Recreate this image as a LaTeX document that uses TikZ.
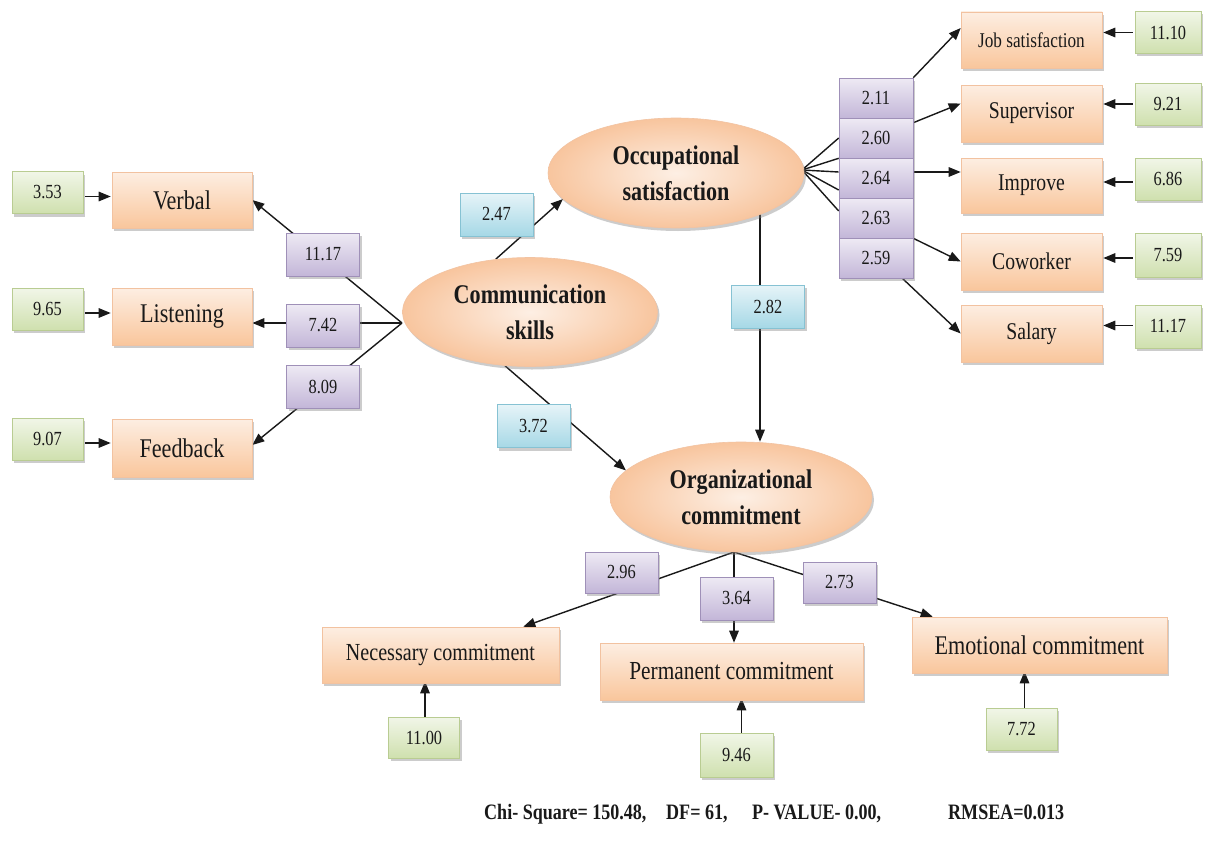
\documentclass[tikz,border=0pt]{standalone}
\usepackage{fontspec}
\setmainfont{Liberation Serif}[FakeStretch=0.82]
\usetikzlibrary{shapes.geometric,shadows,arrows.meta}
\pgfdeclarelayer{bg}
\pgfdeclarelayer{edges}
\pgfsetlayers{bg,edges,main}
\definecolor{orT}{HTML}{FDEEE2}
\definecolor{orB}{HTML}{F9C69C}
\definecolor{orD}{HTML}{F2C2A0}
\definecolor{grT}{HTML}{F1F6E8}
\definecolor{grB}{HTML}{CFE0AE}
\definecolor{grD}{HTML}{B9CC92}
\definecolor{puT}{HTML}{EEEAF4}
\definecolor{puB}{HTML}{C3B6D8}
\definecolor{puD}{HTML}{9F90B8}
\definecolor{blT}{HTML}{E6F4F8}
\definecolor{blB}{HTML}{A6D8E6}
\definecolor{blD}{HTML}{86C2D3}
\definecolor{elT}{HTML}{FDEFE4}
\definecolor{elB}{HTML}{F8C59E}
\definecolor{elD}{HTML}{F2C3A2}
\newcommand\myfs[2]{\fontsize{#1}{#2}\selectfont}
\tikzset{
  shad/.style={drop shadow={shadow xshift=2pt,shadow yshift=-3pt,fill=black!50,opacity=.4}},
  boxbase/.style={rectangle, inner sep=0pt, shad, line width=0.6pt, text=black!90},
  obsbox/.style={boxbase, draw=orD, top color=orT, bottom color=orB, minimum width=140pt, minimum height=56pt, font=\myfs{27}{27}},
  obsR/.style={obsbox, minimum width=141pt, font=\myfs{24}{24}},
  errbox/.style={boxbase, draw=grD, top color=grT, bottom color=grB, minimum width=71pt, minimum height=42pt, font=\myfs{20}{20}},
  loadbox/.style={boxbase, draw=puD, top color=puT, bottom color=puB, minimum width=73pt, minimum height=42pt, font=\myfs{20}{20}},
  pathbox/.style={boxbase, draw=blD, top color=blT, bottom color=blB, minimum width=73pt, minimum height=43pt, font=\myfs{20}{20}},
  latent/.style={ellipse, draw=elD, line width=0.6pt, inner color=elT, outer color=elB, shad, minimum width=256pt, minimum height=110pt, inner sep=0pt, align=center, text=black!90, font=\bfseries\myfs{27}{36}},
  link/.style={draw=black!90, line width=1.4pt},
  arrowlink/.style={link, -{Triangle[length=12pt,width=9.5pt]}},
  foot/.style={inner sep=0pt, anchor=base west, font=\bfseries\myfs{22}{22}, text=black!90}
}
\begin{document}
\begin{tikzpicture}[x=1pt,y=-1pt]
\begin{pgfonlayer}{bg}
\fill[white] (0,0) rectangle (1207,843);
\end{pgfonlayer}
\useasboundingbox (0,0) rectangle (1207,843);

% ---------- left block ----------
\node[errbox] (g353) at (47.5,192.5) {3.53};
\node[obsbox] (verbal) at (182,200) {Verbal};
\node[errbox] (g965) at (47.5,309) {9.65};
\node[obsbox, minimum height=57pt] (listening) at (182,316.5) {Listening};
\node[errbox] (g907) at (47.5,439) {9.07};
\node[obsbox, minimum height=58pt] (feedback) at (182,448) {Feedback};
\node[loadbox, minimum height=43pt] (l1117) at (323,254.5) {11.17};
\node[loadbox, minimum height=43pt] (l742) at (323,325.5) {7.42};
\node[loadbox, minimum height=43pt] (l809) at (323,386.5) {8.09};

% ---------- latent variables ----------
\node[latent, minimum width=255pt, minimum height=109pt] (comm) at (530,312) {Communication\\skills};
\node[latent] (occ) at (676,173) {Occupational\\satisfaction};
\node[latent, minimum width=262pt] (org) at (741,497) {Organizational\\commitment};
\coordinate (cc) at (402,323);
\coordinate (oc) at (802,170);
\coordinate (gc) at (734,552);

% ---------- structural paths ----------
\node[pathbox] (b247) at (496.5,214.5) {2.47};
\node[pathbox] (b282) at (768,306.5) {2.82};
\node[pathbox] (b372) at (533.5,426) {3.72};

% ---------- right block ----------
\node[loadbox, minimum width=74pt, minimum height=40pt] (l211) at (876,98) {2.11};
\node[loadbox, minimum width=74pt, minimum height=40pt] (l260) at (876,138) {2.60};
\node[loadbox, minimum width=74pt, minimum height=40pt] (l264) at (876,178) {2.64};
\node[loadbox, minimum width=74pt, minimum height=40pt] (l263) at (876,218) {2.63};
\node[loadbox, minimum width=74pt, minimum height=40pt] (l259) at (876,258) {2.59};
\node[obsR, font=\myfs{21}{21}] (job) at (1031.5,40) {Job satisfaction};
\node[obsR, minimum height=57pt] (sup) at (1031.5,113.5) {Supervisor};
\node[obsR, minimum height=55pt] (imp) at (1031.5,185.5) {Improve};
\node[obsR, minimum height=57pt] (cow) at (1031.5,261.5) {Coworker};
\node[obsR, minimum height=57pt] (sal) at (1031.5,333.5) {Salary};
\node[errbox, minimum width=66pt] (r1110) at (1168,32.5) {11.10};
\node[errbox, minimum width=66pt] (r921) at (1168,104) {9.21};
\node[errbox, minimum width=66pt] (r686) at (1168,179) {6.86};
\node[errbox, minimum width=66pt, minimum height=44pt] (r759) at (1168,255) {7.59};
\node[errbox, minimum width=66pt, minimum height=43pt] (r1117) at (1168,326.5) {11.17};

% ---------- bottom block ----------
\node[loadbox, minimum height=41pt] (l296) at (621.5,572.5) {2.96};
\node[loadbox, minimum height=43pt] (l364) at (736.5,598.5) {3.64};
\node[loadbox, minimum height=41pt] (l273) at (839.5,582.5) {2.73};
\node[obsbox, minimum width=237pt, font=\myfs{24.5}{24.5}] (nec) at (440.5,655) {Necessary commitment};
\node[obsbox, minimum width=263pt, minimum height=57pt, font=\myfs{26}{26}] (perm) at (731.5,671.5) {Permanent commitment};
\node[obsbox, minimum width=255pt, font=\myfs{27}{27}] (emo) at (1039.5,645) {Emotional commitment};
\node[errbox, minimum height=41pt] (g1100) at (424,737.5) {11.00};
\node[errbox, minimum width=73pt, minimum height=44pt] (g946) at (736.5,755) {9.46};
\node[errbox] (g772) at (1021.5,729) {7.72};

% ---------- fit statistics ----------
\node[foot] (f1) at (484,819) {Chi- Square= 150.48,};
\node[foot] (f2) at (666,819) {DF= 61,};
\node[foot] (f3) at (752,819) {P- VALUE- 0.00,};
\node[foot] (f4) at (948,819) {RMSEA=0.013};

% ---------- connectors ----------
\begin{pgfonlayer}{edges}
\draw[arrowlink, shorten <=2pt, shorten >=1pt] ([yshift=-4pt]g353.east) -- ([yshift=-4pt]g353.east -| verbal.west);
\draw[arrowlink, shorten <=2pt, shorten >=1pt] ([yshift=-4pt]g965.east) -- ([yshift=-4pt]g965.east -| listening.west);
\draw[arrowlink, shorten <=2pt, shorten >=1pt] ([yshift=-4pt]g907.east) -- ([yshift=-4pt]g907.east -| feedback.west);
\draw[arrowlink] (cc) -- (verbal.east);
\draw[arrowlink] (cc) -- (cc -| listening.east);
\draw[arrowlink] (cc) -- ([yshift=3pt]feedback.east);

\draw[arrowlink] (comm.123) -- (occ.193);
\draw[arrowlink] (comm.245) -- (org.167);
\draw[arrowlink] ([xshift=84pt]occ.center) -- ([xshift=84pt]occ.center |- org.north);

\draw[link] (oc) -- (l260.west);
\draw[link] (oc) -- (l260.south west);
\draw[link] (oc) -- ([yshift=6pt]l264.west);
\draw[link] (oc) -- ([yshift=-12pt]l264.west);
\draw[link] (oc) -- ([yshift=7pt]l263.west);
\draw[arrowlink] (l211.north east) -- ([yshift=12pt]job.west);
\draw[arrowlink] ([yshift=-5pt]l260.north east) -- ([yshift=10pt]sup.west);
\draw[arrowlink] ([yshift=6pt]l264.east) -- ([yshift=6pt]l264.east -| imp.west);
\draw[arrowlink] (l263.south east) -- (cow.west);
\draw[arrowlink] ([xshift=-11pt]l259.south east) -- (sal.west);
\draw[arrowlink, shorten <=2pt, shorten >=1pt] (r1110.west) -- (r1110.west -| job.east);
\draw[arrowlink, shorten <=2pt, shorten >=1pt] (r921.west) -- (r921.west -| sup.east);
\draw[arrowlink, shorten <=2pt, shorten >=1pt] ([yshift=-3pt]r686.west) -- ([yshift=-3pt]r686.west -| imp.east);
\draw[arrowlink, shorten <=2pt, shorten >=1pt] ([yshift=-3pt]r759.west) -- ([yshift=-3pt]r759.west -| cow.east);
\draw[arrowlink, shorten <=2pt, shorten >=1pt] ([yshift=1pt]r1117.west) -- ([yshift=1pt]r1117.west -| sal.east);

\draw[arrowlink] (gc) -- ([xshift=-36pt]nec.north east);
\draw[arrowlink] (gc) -- (gc |- perm.north);
\draw[arrowlink] (gc) -- ([xshift=21pt]emo.north west);
\draw[arrowlink, shorten >=-2pt] ([xshift=1pt]g1100.north) -- ([xshift=1pt]g1100.north |- nec.south);
\draw[arrowlink, shorten >=-2pt] ([xshift=5pt]g946.north) -- ([xshift=5pt]g946.north |- perm.south);
\draw[arrowlink, shorten >=-2pt] ([xshift=3pt]g772.north) -- ([xshift=3pt]g772.north |- emo.south);
\end{pgfonlayer}
\end{tikzpicture}
\end{document}
